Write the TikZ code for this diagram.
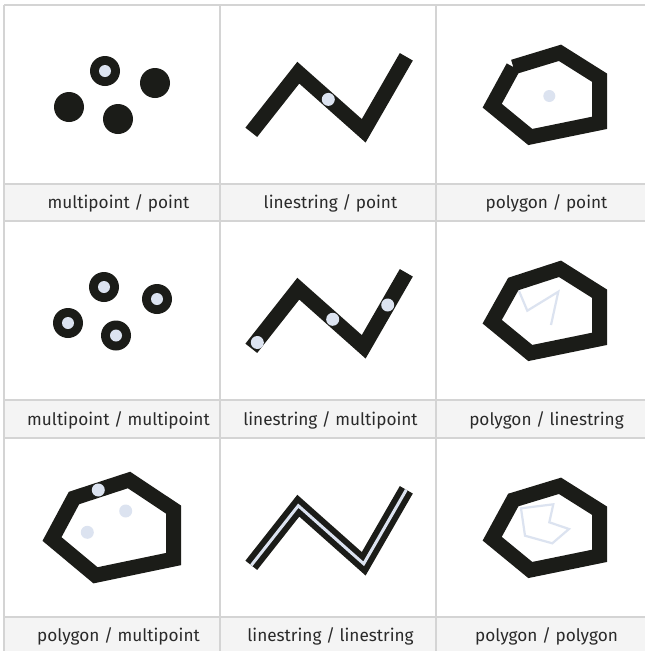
\documentclass[tikz,border=0pt]{standalone}
\usepackage{fontspec}
\setmainfont{Fira Sans}
\definecolor{ink}{HTML}{1B1C18}
\definecolor{pale}{HTML}{DCE3F0}
\definecolor{rulec}{HTML}{D4D4D4}
\definecolor{capbg}{HTML}{F4F4F4}
\definecolor{captxt}{HTML}{2A2A2A}
\tikzset{
  gridline/.style={draw=rulec, line width=1.2pt},
  capband/.style={fill=capbg},
  captext/.style={text=captxt, font=\fontsize{17.2}{20}\selectfont, inner sep=0pt, anchor=base},
  thick geom/.style={draw=ink, line width=15pt, miter limit=10},
  thin geom/.style={draw=pale, line width=2.2pt},
  bigdot/.style={fill=ink},
  smalldot/.style={fill=pale},
}
\newcommand{\lspath}{(31.3,127.3) -- (78.3,67.7) -- (143.7,125.8) -- (186.3,51.8)}
\begin{document}
\begin{tikzpicture}[x=1pt,y=-1pt]
\useasboundingbox (0,0) rectangle (645,651);
\fill[white] (0,0) rectangle (645,651);
% caption bands
\fill[capband] (4,184) rectangle (645,221);
\fill[capband] (4,400) rectangle (645,438);
\fill[capband] (4,617) rectangle (645,651);
% grid lines
\foreach \yy in {5,184,221,400,438,617} { \draw[gridline] (4,\yy) -- (645,\yy); }
\foreach \xx in {4,220,436} { \draw[gridline] (\xx,5) -- (\xx,651); }

% ---- Row 1 ----
\begin{scope}[shift={(4,5)}]
  \fill[bigdot] (101,66) circle (15);
  \fill[smalldot] (101,66) circle (6);
  \fill[bigdot] (151,78) circle (15);
  \fill[bigdot] (65,102) circle (15);
  \fill[bigdot] (114,114) circle (15);
\end{scope}
\begin{scope}[shift={(220,5)}]
  \draw[thick geom] \lspath;
  \fill[smalldot] (108.3,94.4) circle (6.5);
\end{scope}
\begin{scope}[shift={(436,5)}]
  \draw[thick geom] (77.3,62) -- (124,47.8) -- (163.7,72.8) -- (163.7,117.8) -- (94.3,132) -- (56.2,100.7) -- (77.3,62);
  \fill[smalldot] (113.3,91) circle (6);
\end{scope}
\node[captext] (c11) at (118.5,208.5) {multipoint / point};
\node[captext] (c12) at (330.5,208.5) {linestring / point};
\node[captext] (c13) at (546.5,208.5) {polygon / point};

% ---- Row 2 ----
\begin{scope}[shift={(4,221)}]
  \foreach \p in {(100,66),(153,78),(64,102),(112,114.5)} {
    \fill[bigdot] \p circle (15);
    \fill[smalldot] \p circle (6);
  }
\end{scope}
\begin{scope}[shift={(220,221)}]
  \draw[thick geom] \lspath;
  \fill[smalldot] (37.3,121.5) circle (6.5);
  \fill[smalldot] (112.7,98.3) circle (6.5);
  \fill[smalldot] (167.7,84) circle (6.5);
\end{scope}
\begin{scope}[shift={(436,221)}]
  \draw[thick geom] (77.3,63) -- (124,47.8) -- (163.7,72.8) -- (163.7,117.8) -- (94.3,132) -- (56.2,100.7) -- cycle;
  \draw[thin geom] (83,70) -- (91.3,89.7) -- (122.3,70.7) -- (115,104);
\end{scope}
\node[captext] (c21) at (118.5,425.5) {multipoint / multipoint};
\node[captext] (c22) at (330.5,425.5) {linestring / multipoint};
\node[captext] (c23) at (546.5,425.5) {polygon / linestring};

% ---- Row 3 ----
\begin{scope}[shift={(4,438)}]
  \draw[thick geom] (70,60) -- (125,42) -- (169.7,71.7) -- (169.7,121) -- (91.5,137.3) -- (48,101) -- cycle;
  \fill[smalldot] (94.3,52) circle (6.5);
  \fill[smalldot] (121.7,73) circle (6.5);
  \fill[smalldot] (83.3,94.3) circle (6.5);
\end{scope}
\begin{scope}[shift={(220,438)}]
  \draw[thick geom] \lspath;
  \draw[draw=pale, line width=3pt] \lspath;
\end{scope}
\begin{scope}[shift={(436,438)}]
  \draw[thick geom] (77.3,62) -- (124,47.8) -- (163.7,72.8) -- (163.7,117.8) -- (94.3,132) -- (56.2,100.7) -- cycle;
  \draw[thin geom] (85,70.3) -- (117.3,66.3) -- (113.3,84.3) -- (133,91) -- (116.3,105.3) -- (89,97.7) -- cycle;
\end{scope}
\node[captext] (c31) at (118.5,641.5) {polygon / multipoint};
\node[captext] (c32) at (330.5,641.5) {linestring / linestring};
\node[captext] (c33) at (546.5,641.5) {polygon / polygon};
\end{tikzpicture}
\end{document}
